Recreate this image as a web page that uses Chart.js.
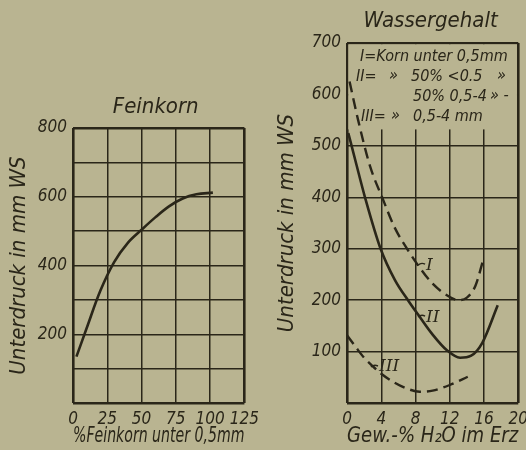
<!DOCTYPE html>
<html>
<head>
<meta charset="utf-8">
<script src="https://cdn.jsdelivr.net/npm/chart.js@4"></script>
<style>
  html, body { margin: 0; padding: 0; background: #b9b491; }
  body { width: 526px; height: 450px; position: relative; overflow: hidden; }
  .box { position: absolute; }
</style>
</head>
<body>
<div class="box" style="left:0;top:85px;"><canvas id="feinChart" width="265" height="365"></canvas></div>
<div class="box" style="left:268px;top:0;"><canvas id="wasserChart" width="266" height="450"></canvas></div>
<script>
// Feinkorn curve
const feinX = [2.5, 10, 20, 30, 40, 50, 60, 70, 80, 90, 102];
const feinY = [135, 218, 327, 410, 466, 504, 540, 572, 595, 607, 612];

// Wassergehalt curves
const curveIX = [0.3, 1.3, 2.7, 4.1, 5.6, 7.2, 8.2, 10, 12, 13, 14, 15, 15.9];
const curveIY = [625, 550, 460, 400, 340, 295, 270, 232, 206, 200, 205, 228, 278];
const curveIIX = [0.15, 1, 2.1, 3.9, 5.6, 7.2, 8.3, 10, 11.7, 13.2, 14.5, 15.8, 17.6];
const curveIIY = [525, 470, 400, 301, 239, 198, 172, 133, 102, 88, 92, 117, 190];
const curveIIIX = [0, 1.1, 2, 3.1, 4, 5.4, 7, 8.5, 10, 12, 14.1];
const curveIIIY = [132, 107, 88, 70, 57, 41, 28, 22, 24, 35, 51];

// curve name tags, anchored in data units
const tagText = ['I', 'II', 'III'];
const tagX = [8.3, 8.3, 2.8];
const tagY = [268, 167, 70];

// tick labels
const feinXTicks = [0, 25, 50, 75, 100, 125];
const feinYTicks = [200, 400, 600, 800];
const wasserXTicks = [0, 4, 8, 12, 16, 20];
const wasserYTicks = [100, 200, 300, 400, 500, 600, 700];

const INK = '#2a2619';
const PAPER = '#b9b491';
const TXT = "'DejaVu Sans Condensed', 'DejaVu Sans', sans-serif";

function pts(xs, ys) {
  return xs.map((x, i) => ({ x: x, y: ys[i] }));
}

function makeScale(min, max, step, labels, width, height, title, titlePad, titleSize) {
  const s = {
    type: 'linear',
    min: min,
    max: max,
    border: { display: false },
    grid: {
      color: INK,
      drawTicks: false,
      lineWidth: ctx => {
        const v = ctx.tick ? ctx.tick.value : null;
        return (v === min || v === max) ? 2.6 : 1.5;
      }
    },
    ticks: {
      stepSize: step,
      color: INK,
      padding: 6,
      autoSkip: false,
      maxRotation: 0,
      minRotation: 0,
      font: { family: TXT, size: 17, style: 'italic' },
      callback: v => labels.includes(v) ? String(v) : ''
    },
    title: {
      display: true,
      text: title,
      color: INK,
      padding: titlePad,
      font: { family: TXT, size: titleSize, style: 'italic' }
    }
  };
  if (width) s.afterFit = scale => { scale.width = width; };
  if (height) s.afterFit = scale => { scale.height = height; };
  return s;
}

// chart heading drawn above the plot box
function heading(text, dx, dy) {
  return {
    id: 'heading',
    afterDraw(chart) {
      const { ctx, chartArea: a } = chart;
      ctx.save();
      ctx.fillStyle = INK;
      ctx.font = 'italic 22px ' + TXT;
      ctx.textAlign = 'center';
      ctx.textBaseline = 'middle';
      ctx.fillText(text, (a.left + a.right) / 2 + dx, a.top + dy);
      ctx.restore();
    }
  };
}

// Feinkorn chart
new Chart(document.getElementById('feinChart'), {
  type: 'scatter',
  data: {
    datasets: [{
      data: pts(feinX, feinY),
      showLine: true,
      borderColor: INK,
      borderWidth: 2.6,
      pointRadius: 0,
      tension: 0.35
    }]
  },
  options: {
    responsive: false,
    animation: false,
    layout: { padding: { left: 0, right: 18, top: 43, bottom: 0 } },
    plugins: {
      legend: { display: false },
      tooltip: { enabled: false }
    },
    scales: {
      x: makeScale(0, 125, 25, feinXTicks, null, 47, '%Feinkorn unter 0,5mm', { top: 0, bottom: 1 }, 21),
      y: makeScale(0, 800, 100, feinYTicks, 73, null, 'Unterdruck in mm WS', { top: 6, bottom: 0 }, 22)
    }
  },
  plugins: [heading('Feinkorn', -3, -21)]
});

// legend box and curve tags on the Wassergehalt chart
const wasserNotes = {
  id: 'wasserNotes',
  beforeDatasetsDraw(chart) {
    const { ctx, chartArea: a, scales } = chart;
    const yBot = scales.y.getPixelForValue(532);
    ctx.save();
    ctx.fillStyle = PAPER;
    ctx.fillRect(a.left + 1.3, a.top + 1.3, a.right - a.left - 2.6, yBot - a.top - 1.3);
    ctx.fillStyle = INK;
    ctx.textBaseline = 'middle';
    ctx.font = 'italic 16px ' + TXT;
    const L = a.left, T = a.top;
    ctx.fillText('I=Korn unter 0,5mm', L + 13, T + 14);
    ctx.fillText('II=', L + 9, T + 34);
    ctx.fillText('»', L + 42, T + 33);
    ctx.fillText('50% <0.5', L + 64, T + 34);
    ctx.fillText('»', L + 150, T + 33);
    ctx.fillText('50% 0,5-4', L + 66, T + 54);
    ctx.fillText('» -', L + 143, T + 53);
    ctx.fillText('III=', L + 14, T + 74);
    ctx.fillText('»', L + 44, T + 73);
    ctx.fillText('0,5-4 mm', L + 66, T + 74);
    ctx.restore();
  },
  afterDatasetsDraw(chart) {
    const { ctx, scales } = chart;
    ctx.save();
    ctx.strokeStyle = INK;
    ctx.fillStyle = INK;
    ctx.lineWidth = 1.4;
    ctx.font = 'italic 17px DejaVu Serif, serif';
    ctx.textBaseline = 'middle';
    tagText.forEach((t, i) => {
      const px = scales.x.getPixelForValue(tagX[i]);
      const py = scales.y.getPixelForValue(tagY[i]);
      ctx.beginPath();
      ctx.moveTo(px, py);
      ctx.quadraticCurveTo(px + 3, py - 3, px + 7, py - 1);
      ctx.stroke();
      ctx.fillText(t, px + 8, py);
    });
    ctx.restore();
  }
};

new Chart(document.getElementById('wasserChart'), {
  type: 'scatter',
  data: {
    datasets: [
      { data: pts(curveIX, curveIY), showLine: true, borderColor: INK, borderWidth: 2.4, borderDash: [11, 6], pointRadius: 0, cubicInterpolationMode: 'monotone' },
      { data: pts(curveIIX, curveIIY), showLine: true, borderColor: INK, borderWidth: 2.6, pointRadius: 0, cubicInterpolationMode: 'monotone' },
      { data: pts(curveIIIX, curveIIIY), showLine: true, borderColor: INK, borderWidth: 2.4, borderDash: [11, 6], pointRadius: 0, cubicInterpolationMode: 'monotone' }
    ]
  },
  options: {
    responsive: false,
    animation: false,
    layout: { padding: { left: 0, right: 0, top: 43, bottom: 0 } },
    plugins: {
      legend: { display: false },
      tooltip: { enabled: false }
    },
    scales: {
      x: makeScale(0, 20, 4, wasserXTicks, null, 47, 'Gew.-% H₂O im Erz', { top: 0, bottom: 1 }, 21),
      y: makeScale(0, 700, 100, wasserYTicks, 79, null, 'Unterdruck in mm WS', { top: 6, bottom: 0 }, 22)
    }
  },
  plugins: [wasserNotes, heading('Wassergehalt', -2, -22)]
});
</script>
</body>
</html>
